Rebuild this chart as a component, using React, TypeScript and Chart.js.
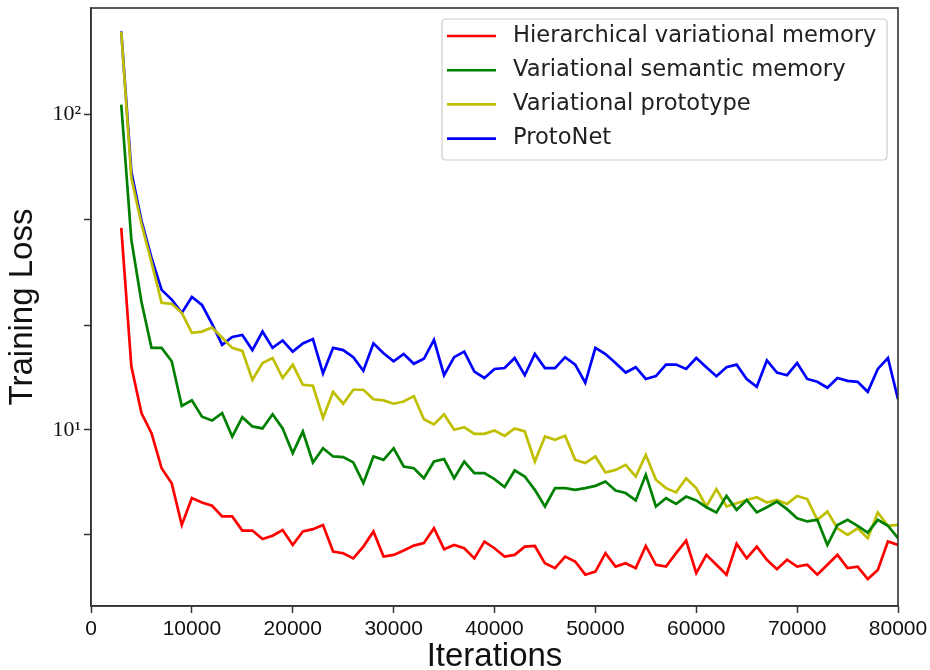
import React, { useEffect, useRef } from "react";
import { Chart, registerables } from "chart.js";

Chart.register(...registerables);

const iterations = [
  3000, 4000, 5000, 6000, 7000, 8000, 9000, 10000, 11000, 12000,
  13000, 14000, 15000, 16000, 17000, 18000, 19000, 20000, 21000, 22000,
  23000, 24000, 25000, 26000, 27000, 28000, 29000, 30000, 31000, 32000,
  33000, 34000, 35000, 36000, 37000, 38000, 39000, 40000, 41000, 42000,
  43000, 44000, 45000, 46000, 47000, 48000, 49000, 50000, 51000, 52000,
  53000, 54000, 55000, 56000, 57000, 58000, 59000, 60000, 61000, 62000,
  63000, 64000, 65000, 66000, 67000, 68000, 69000, 70000, 71000, 72000,
  73000, 74000, 75000, 76000, 77000, 78000, 79000, 80000,
];

const hierarchicalLoss = [
  43.7, 15.9, 11.3, 9.76, 7.55, 6.77, 4.99, 6.07, 5.88, 5.74,
  5.31, 5.31, 4.79, 4.79, 4.5, 4.61, 4.81, 4.31, 4.76, 4.84,
  4.99, 4.11, 4.06, 3.91, 4.26, 4.76, 3.96, 4.01, 4.14, 4.29,
  4.37, 4.87, 4.18, 4.31, 4.21, 3.91, 4.42, 4.21, 3.96, 4.01,
  4.26, 4.28, 3.77, 3.64, 3.96, 3.82, 3.47, 3.55, 4.06, 3.68,
  3.77, 3.64, 4.28, 3.73, 3.68, 4.06, 4.45, 3.51, 4.01, 3.73,
  3.47, 4.35, 3.91, 4.26, 3.87, 3.61, 3.87, 3.68, 3.73, 3.47,
  3.73, 4.01, 3.64, 3.68, 3.36, 3.59, 4.42, 4.31,
];

const semanticLoss = [
  107.6, 40.1, 25.5, 18.2, 18.2, 16.5, 11.9, 12.4, 11.0, 10.7,
  11.3, 9.52, 10.97, 10.25, 10.1, 11.2, 10.1, 8.43, 9.88, 7.88,
  8.74, 8.23, 8.19, 7.88, 6.77, 8.23, 8.03, 8.74, 7.65, 7.55,
  7.02, 7.93, 8.07, 7.02, 7.93, 7.29, 7.29, 6.97, 6.58, 7.43,
  7.11, 6.45, 5.71, 6.53, 6.53, 6.45, 6.53, 6.64, 6.85, 6.42,
  6.3, 5.97, 7.2, 5.71, 6.07, 5.82, 6.14, 5.97, 5.68, 5.47,
  6.17, 5.57, 5.99, 5.47, 5.68, 5.92, 5.6, 5.24, 5.12, 5.18,
  4.31, 4.99, 5.18, 4.96, 4.72, 5.18, 4.96, 4.53,
];

const prototypeLoss = [
  183, 63, 45, 34, 25.3, 25.1, 23.5, 20.3, 20.5, 21.1,
  19.6, 18.2, 17.8, 14.4, 16.3, 16.9, 14.6, 16.1, 13.9, 13.8,
  10.9, 13.2, 12.1, 13.4, 13.4, 12.5, 12.4, 12.1, 12.3, 12.8,
  10.8, 10.4, 11.2, 10.0, 10.2, 9.71, 9.71, 9.95, 9.57, 10.1,
  9.88, 7.93, 9.52, 9.3, 9.57, 8.03, 7.84, 8.23, 7.32, 7.46,
  7.74, 7.11, 8.33, 6.94, 6.53, 6.33, 7.02, 6.53, 5.71, 6.48,
  5.71, 5.85, 5.99, 6.11, 5.88, 5.99, 5.82, 6.17, 6.03, 5.18,
  5.5, 4.87, 4.64, 4.87, 4.53, 5.47, 4.96, 4.99,
];

const protoNetLoss = [
  183.8, 65.9, 46.1, 35.1, 27.8, 25.9, 23.5, 26.4, 24.9, 21.7,
  18.6, 19.7, 20.0, 17.9, 20.5, 18.2, 19.2, 17.7, 18.8, 19.4,
  15.1, 18.2, 17.9, 17.0, 15.4, 18.8, 17.5, 16.5, 17.4, 16.2,
  16.8, 19.3, 14.9, 17.0, 17.7, 15.3, 14.6, 15.6, 15.7, 16.9,
  14.9, 17.4, 15.7, 15.7, 17.0, 16.1, 14.1, 18.2, 17.4, 16.3,
  15.2, 15.8, 14.5, 14.8, 16.1, 16.1, 15.6, 16.9, 15.8, 14.8,
  15.8, 16.1, 14.5, 13.7, 16.6, 15.2, 14.9, 16.3, 14.5, 14.2,
  13.6, 14.6, 14.3, 14.2, 13.2, 15.6, 16.9, 12.5,
];

const seriesNames = [
  "Hierarchical variational memory",
  "Variational semantic memory",
  "Variational prototype",
  "ProtoNet",
];
const seriesValues = [hierarchicalLoss, semanticLoss, prototypeLoss, protoNetLoss];
const seriesColors = ["#ff0000", "#008000", "#bfbf00", "#0000ff"];

const xTicks = [0, 10000, 20000, 30000, 40000, 50000, 60000, 70000, 80000];
const yTicks = [4.64, 10, 21.5, 46.4, 100];
const yTickLabels: Record<string, string> = { "10": "10\u00B9", "100": "10\u00B2" };

const frameColor = "#333333";

const framePlugin = {
  id: "frameBox",
  afterDatasetsDraw(chart: any) {
    const { ctx, chartArea: a } = chart;
    ctx.save();
    ctx.strokeStyle = frameColor;
    ctx.lineWidth = 1.6;
    ctx.strokeRect(a.left, a.top, a.right - a.left, a.bottom - a.top);
    ctx.restore();
  },
};

const legendPlugin = {
  id: "boxLegend",
  afterDraw(chart: any) {
    const { ctx, chartArea: a } = chart;
    const w = 445;
    const h = 141;
    const x0 = a.right - 11 - w;
    const y0 = a.top + 11;
    const r = 4;
    ctx.save();
    ctx.beginPath();
    ctx.moveTo(x0 + r, y0);
    ctx.lineTo(x0 + w - r, y0);
    ctx.quadraticCurveTo(x0 + w, y0, x0 + w, y0 + r);
    ctx.lineTo(x0 + w, y0 + h - r);
    ctx.quadraticCurveTo(x0 + w, y0 + h, x0 + w - r, y0 + h);
    ctx.lineTo(x0 + r, y0 + h);
    ctx.quadraticCurveTo(x0, y0 + h, x0, y0 + h - r);
    ctx.lineTo(x0, y0 + r);
    ctx.quadraticCurveTo(x0, y0, x0 + r, y0);
    ctx.closePath();
    ctx.fillStyle = "rgba(255,255,255,0.9)";
    ctx.fill();
    ctx.strokeStyle = "#cccccc";
    ctx.lineWidth = 1.2;
    ctx.stroke();
    chart.data.datasets.forEach((ds: any, k: number) => {
      const y = y0 + 17 + k * 34.2;
      ctx.beginPath();
      ctx.strokeStyle = ds.borderColor;
      ctx.lineWidth = 2.6;
      ctx.moveTo(x0 + 5, y);
      ctx.lineTo(x0 + 54, y);
      ctx.stroke();
      ctx.fillStyle = "#222222";
      ctx.font = '22.6px "DejaVu Sans"';
      ctx.textBaseline = "middle";
      ctx.textAlign = "left";
      ctx.fillText(ds.label, x0 + 71, y);
    });
    ctx.restore();
  },
};

export default function App() {
  const canvasRef = useRef<HTMLCanvasElement | null>(null);

  useEffect(() => {
    if (!canvasRef.current) return;
    const datasets = seriesNames.map((name, k) => ({
      label: name,
      data: iterations.map((it, i) => ({ x: it, y: seriesValues[k][i] })),
      borderColor: seriesColors[k],
      backgroundColor: seriesColors[k],
      borderWidth: 2.7,
      pointRadius: 0,
      tension: 0,
      fill: false,
    }));
    const chart = new Chart(canvasRef.current, {
      type: "line",
      data: { datasets },
      plugins: [framePlugin, legendPlugin],
      options: {
        animation: false,
        responsive: false,
        devicePixelRatio: 1,
        layout: { padding: { left: 0, right: 32, top: 8, bottom: 0 } },
        plugins: {
          legend: { display: false },
          tooltip: { enabled: false },
        },
        scales: {
          x: {
            type: "linear",
            min: 0,
            max: 80000,
            afterBuildTicks: (s: any) => {
              s.ticks = xTicks.map((v) => ({ value: v }));
            },
            afterFit: (s: any) => {
              s.height = 64;
              s.paddingLeft = 0;
              s.paddingRight = 0;
            },
            ticks: {
              callback: (v: any) => String(v),
              font: { family: '"Liberation Sans", Arial, sans-serif', size: 21 },
              color: "#111111",
              padding: 4,
              maxRotation: 0,
              autoSkip: false,
            },
            grid: {
              display: true,
              drawOnChartArea: false,
              drawTicks: true,
              tickLength: 7,
              tickColor: frameColor,
              tickWidth: 1.5,
            },
            border: { display: true, color: frameColor, width: 1.6 },
            title: {
              display: true,
              text: "Iterations",
              font: { family: '"Liberation Sans", Arial, sans-serif', size: 33, lineHeight: 0.8 },
              color: "#111111",
              padding: { top: 0, bottom: 0 },
            },
          },
          y: {
            type: "logarithmic",
            min: 2.76,
            max: 218,
            afterBuildTicks: (s: any) => {
              s.ticks = yTicks.map((v) => ({ value: v }));
            },
            afterFit: (s: any) => {
              s.width = 91;
              s.paddingTop = 0;
              s.paddingBottom = 0;
            },
            ticks: {
              callback: (v: any) => yTickLabels[String(v)] ?? "",
              font: { family: '"Liberation Serif", "DejaVu Serif", serif', size: 22 },
              color: "#111111",
              padding: 3,
              autoSkip: false,
            },
            grid: {
              display: true,
              drawOnChartArea: false,
              drawTicks: true,
              tickLength: 7,
              tickColor: frameColor,
              tickWidth: 1.5,
            },
            border: { display: true, color: frameColor, width: 1.6 },
            title: {
              display: true,
              text: "Training Loss",
              font: { family: '"Liberation Sans", Arial, sans-serif', size: 33, lineHeight: 0.9 },
              color: "#111111",
              padding: { top: 8, bottom: 0 },
            },
          },
        },
      },
    } as any);
    return () => chart.destroy();
  }, []);

  return (
    <div style={{ position: "absolute", left: 0, top: 0, width: 930, height: 670, background: "#ffffff" }}>
      <canvas ref={canvasRef} width={930} height={670} style={{ display: "block" }} />
    </div>
  );
}
